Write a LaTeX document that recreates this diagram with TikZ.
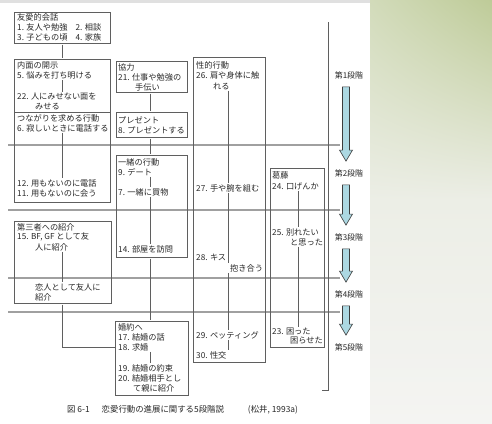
\documentclass[tikz,border=0pt]{standalone}
\usepackage{fontspec}
\newfontfamily\jp{Noto Sans CJK JP}
\usetikzlibrary{calc,shadings}
\definecolor{linec}{RGB}{95,95,95}
\definecolor{txtc}{RGB}{40,40,40}
\definecolor{stagec}{RGB}{160,160,160}
\definecolor{arrfill}{RGB}{172,216,226}
\definecolor{arrline}{RGB}{60,60,60}
\definecolor{bgA}{RGB}{190,203,152}
\definecolor{bgB}{RGB}{210,219,186}
\definecolor{bgC}{RGB}{236,238,230}
\definecolor{bgD}{RGB}{244,244,242}
\newcommand\stagearrow[2]{%
  \path[fill=arrfill, draw=arrline, line width=0.6pt]
    let \p1=($(#1.south)+(-3pt,-8pt)$), \p2=($(#2.north)+(-3pt,8pt)$) in
    (\x1-3.5pt,\y1) -- (\x1+3.5pt,\y1) -- (\x1+3.5pt,\y2+11pt) -- (\x1+6.5pt,\y2+11pt)
    -- (\x1,\y2) -- (\x1-6.5pt,\y2+11pt) -- (\x1-3.5pt,\y2+11pt) -- cycle;}
\begin{document}
\begin{tikzpicture}[x=1pt,y=-1pt,
  box/.style={draw=linec, line width=0.6pt, inner sep=0pt, anchor=north west},
  txt/.style={anchor=west, inner sep=0pt, font=\jp\fontsize{8.2}{9}\selectfont, text=txtc},
  link/.style={draw=linec, line width=0.6pt, shorten <=1pt, shorten >=1pt},
  stageline/.style={draw=stagec, line width=1.2pt},
  lab/.style={inner sep=0pt, font=\jp\fontsize{8}{9}\selectfont, text=txtc}]
\useasboundingbox (0,0) rectangle (492,423);
% background
\shade[upper left=bgB, upper right=bgA, lower left=bgC, lower right=bgC] (370,0) rectangle (492,200);
\shade[top color=bgC, bottom color=bgD] (370,200) rectangle (492,423);
\fill[white] (0,0) rectangle (370,423);
\fill[black!12] (0,0) rectangle (370,3);
% x positions of connectors
\coordinate (xL) at (62,0);
\coordinate (xM) at (150,0);
\coordinate (xS) at (228,0);
\coordinate (xK) at (298,0);
% stage dividers
\draw[stageline] (8,145) -- (340,145);
\draw[stageline] (8,210) -- (340,210);
\draw[stageline] (8,278) -- (340,278);
\draw[stageline] (8,312) -- (340,312);
\draw[draw=linec, line width=0.6pt] (328,22) -- (328,390) -- (322,390);
% boxes
\node[box, minimum width=96pt, minimum height=31pt] (A) at (14,12) {};
\node[box, minimum width=96pt, minimum height=53pt] (B) at (14,59) {};
\node[box, minimum width=96pt, minimum height=90pt] (C) at (14,112) {};
\node[box, minimum width=97pt, minimum height=82pt] (D) at (14,221) {};
\node[box, minimum width=71pt, minimum height=31pt] (E) at (116,61) {};
\node[box, minimum width=71pt, minimum height=25pt] (F) at (116,112) {};
\node[box, minimum width=71pt, minimum height=102pt] (G) at (116,155) {};
\node[box, minimum width=73pt, minimum height=74pt] (H) at (115,321) {};
\node[box, minimum width=72pt, minimum height=305pt] (I) at (193,57) {};
\node[box, minimum width=54pt, minimum height=179pt] (J) at (270,168) {};
% texts column 1
\node[txt] (a0) at (17,17) {友愛的会話};
\node[txt] (a1) at (17,27) {1. 友人や勉強　2. 相談};
\node[txt] (a2) at (17,37) {3. 子どもの頃　4. 家族};
\node[txt] (b0) at (17,65) {内面の開示};
\node[txt] (b1) at (17,75) {5. 悩みを打ち明ける};
\node[txt] (b2) at (17,97) {22. 人にみせない面を};
\node[txt] (b3) at (35,107) {みせる};
\node[txt] (c0) at (17,118) {つながりを求める行動};
\node[txt] (c1) at (17,128) {6. 寂しいときに電話する};
\node[txt] (c2) at (17,183) {12. 用もないのに電話};
\node[txt] (c3) at (17,193) {11. 用もないのに会う};
\node[txt] (d0) at (17,227) {第三者への紹介};
\node[txt] (d1) at (17,237) {15. BF, GF として友};
\node[txt] (d2) at (35,247) {人に紹介};
\node[txt] (d3) at (35,287) {恋人として友人に};
\node[txt] (d4) at (35,297) {紹介};
% column 2
\node[txt] (e0) at (118,67) {協力};
\node[txt] (e1) at (118,77) {21. 仕事や勉強の};
\node[txt] (e2) at (135,87) {手伝い};
\node[txt] (f0) at (118,120) {プレゼント};
\node[txt] (f1) at (118,130) {8. プレゼントする};
\node[txt] (g0) at (118,162) {一緒の行動};
\node[txt] (g1) at (118,172) {9. デート};
\node[txt] (g2) at (118,192) {7. 一緒に買物};
\node[txt] (g3) at (118,249) {14. 部屋を訪問};
\node[txt] (h0) at (118,327) {婚約へ};
\node[txt] (h1) at (118,337) {17. 結婚の話};
\node[txt] (h2) at (118,347) {18. 求婚};
\node[txt] (h3) at (118,368) {19. 結婚の約束};
\node[txt] (h4) at (118,378) {20. 結婚相手とし};
\node[txt] (h5) at (133,388) {て親に紹介};
% column 3
\node[txt] (i0) at (196,65) {性的行動};
\node[txt] (i1) at (196,75) {26. 肩や身体に触};
\node[txt] (i1b) at (213,86) {れる};
\node[txt] (i2) at (196,188) {27. 手や腕を組む};
\node[txt] (i3) at (196,257) {28. キス};
\node[txt] (i3b) at (230,268) {抱き合う};
\node[txt] (i4) at (196,335) {29. ペッティング};
\node[txt] (i5) at (196,355) {30. 性交};
% column 4
\node[txt] (j0) at (272,175) {葛藤};
\node[txt] (j1) at (272,186) {24. 口げんか};
\node[txt] (j2) at (272,232) {25. 別れたい};
\node[txt] (j2b) at (290,242) {と思った};
\node[txt] (j3) at (272,332) {23. 困った};
\node[txt] (j3b) at (290,341) {困らせた};
% connectors
\draw[link] (A.south -| xL) -- (B.north -| xL);
\draw[link] (b1.south -| xL) -- (b2.north -| xL);
\draw[link] (c1.south -| xL) -- (c2.north -| xL);
\draw[link] (d2.south -| xL) -- (d3.north -| xL);
\draw[link, shorten >=0pt] (D.south -| xL) |- (h2 -| H.west);
\draw[link] (E.south -| xM) -- (F.north -| xM);
\draw[link] (F.south -| xM) -- (G.north -| xM);
\draw[link] (g1.south -| xM) -- (g2.north -| xM);
\draw[link] (g2.south -| xM) -- (g3.north -| xM);
\draw[link] (G.south -| xM) -- (H.north -| xM);
\draw[link] (h2.south -| xM) -- (h3.north -| xM);
\draw[link] (i1b.south -| xS) -- (i2.north -| xS);
\draw[link] (i2.south -| xS) -- (i3b.north -| xS);
\draw[link] (i3b.south -| xS) -- (i4.north -| xS);
\draw[link] (i4.south -| xS) -- (i5.north -| xS);
\draw[link] (j1.south -| xK) -- (j2.north -| xK);
\draw[link] (j2b.south -| xK) -- (j3.north -| xK);
% stage labels and arrows
\node[lab] (s1) at (349,75) {第1段階};
\node[lab] (s2) at (349,173) {第2段階};
\node[lab] (s3) at (349,237) {第3段階};
\node[lab] (s4) at (349,294) {第4段階};
\node[lab] (s5) at (349,347) {第5段階};
\stagearrow{s1}{s2}
\stagearrow{s2}{s3}
\stagearrow{s3}{s4}
\stagearrow{s4}{s5}
% caption
\node[lab, anchor=west, font=\jp\fontsize{8.4}{9}\selectfont] (cap) at (67,410) {図 6-1\hspace{12pt}恋愛行動の進展に関する5段階説\hspace{24pt}(松井, 1993a)};
\end{tikzpicture}
\end{document}
